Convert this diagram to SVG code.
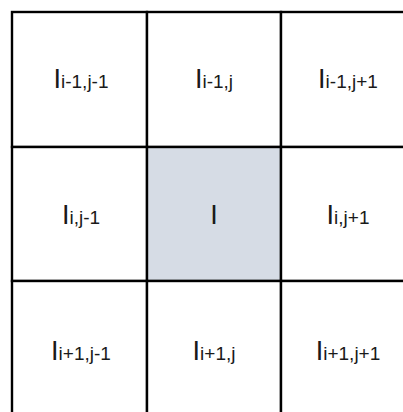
<svg xmlns="http://www.w3.org/2000/svg" width="403" height="412" viewBox="0 0 403 412">
<style>
.cell{fill:#ffffff;stroke:#000000;stroke-width:2.4}
.center{fill:#d6dce5}
text{font-family:"Liberation Sans",Arial,sans-serif;font-size:27px;fill:#1a1a1a;text-anchor:middle}
tspan{font-size:19px}
</style>
<rect width="403" height="412" fill="#ffffff"/>
<g id="n_im1_jm1"><rect class="cell" x="12" y="12" width="135" height="135"/><text x="81" y="88">I<tspan>i-1,j-1</tspan></text></g>
<g id="n_im1_j"><rect class="cell" x="147" y="12" width="134" height="135"/><text x="214" y="88">I<tspan>i-1,j</tspan></text></g>
<g id="n_im1_jp1"><rect class="cell" x="281" y="12" width="134" height="135"/><text x="348" y="88">I<tspan>i-1,j+1</tspan></text></g>
<g id="n_i_jm1"><rect class="cell" x="12" y="147" width="135" height="134"/><text x="81" y="224">I<tspan>i,j-1</tspan></text></g>
<g id="n_i_j"><rect class="cell center" x="147" y="147" width="134" height="134"/><text x="214" y="224">I</text></g>
<g id="n_i_jp1"><rect class="cell" x="281" y="147" width="134" height="134"/><text x="348" y="224">I<tspan>i,j+1</tspan></text></g>
<g id="n_ip1_jm1"><rect class="cell" x="12" y="281" width="135" height="135"/><text x="81" y="360">I<tspan>i+1,j-1</tspan></text></g>
<g id="n_ip1_j"><rect class="cell" x="147" y="281" width="134" height="135"/><text x="214" y="360">I<tspan>i+1,j</tspan></text></g>
<g id="n_ip1_jp1"><rect class="cell" x="281" y="281" width="134" height="135"/><text x="348" y="360">I<tspan>i+1,j+1</tspan></text></g>
<g id="connectors"/>
</svg>
